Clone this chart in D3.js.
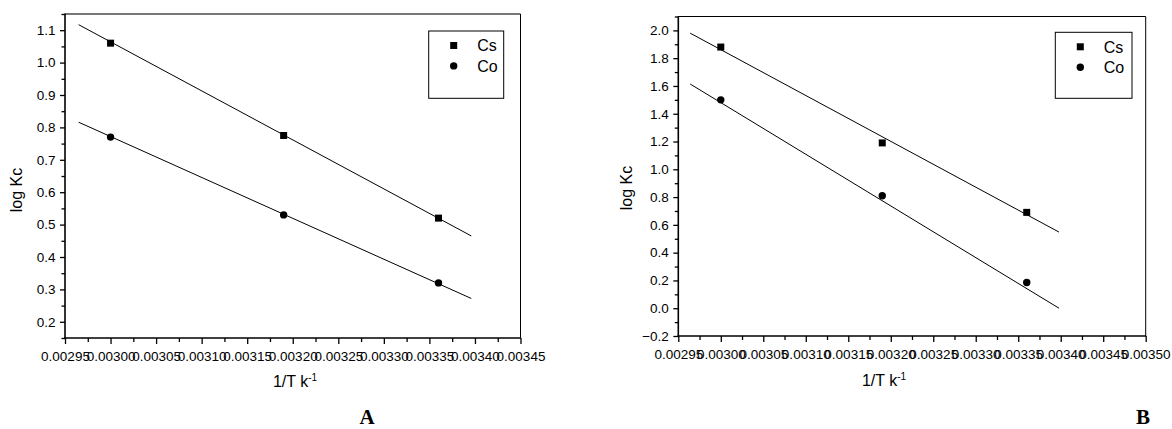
<!DOCTYPE html>
<html>
<head>
<meta charset="utf-8">
<script src="https://cdn.jsdelivr.net/npm/d3@7/dist/d3.min.js"></script>
<style>
  html, body { margin: 0; padding: 0; background: #fff; }
  svg { display: block; }
  text { font-family: "Liberation Sans", Arial, sans-serif; fill: #000; }
  .panel-letter { font-family: "Liberation Serif", "Times New Roman", serif; font-weight: bold; }
</style>
</head>
<body>
<svg id="chart" width="1172" height="429"></svg>
<script>
// Measured points: 1/T versus log Kc for Cs and Co
const seriesNames = ["Cs", "Co"];

const tempA = [0.00300, 0.00319, 0.00336];
const csA = [1.06, 0.775, 0.52];
const coA = [0.77, 0.53, 0.32];

const tempB = [0.00300, 0.00319, 0.00336];
const csB = [1.88, 1.19, 0.69];
const coB = [1.50, 0.81, 0.185];

// Linear fit lines: end points in 1/T and fitted log Kc
const fitTempA = [0.002965, 0.003396];
const fitCsA = [1.117, 0.465];
const fitCoA = [0.816, 0.272];

const fitTempB = [0.002964, 0.003398];
const fitCsB = [1.98, 0.548];
const fitCoB = [1.614, 0.0];

// Axis ticks
const xTicksA = [0.00295, 0.00300, 0.00305, 0.00310, 0.00315, 0.00320, 0.00325, 0.00330, 0.00335, 0.00340, 0.00345];
const yTicksA = [0.2, 0.3, 0.4, 0.5, 0.6, 0.7, 0.8, 0.9, 1.0, 1.1];
const xTicksB = [0.00295, 0.00300, 0.00305, 0.00310, 0.00315, 0.00320, 0.00325, 0.00330, 0.00335, 0.00340, 0.00345, 0.00350];
const yTicksB = [-0.2, 0.0, 0.2, 0.4, 0.6, 0.8, 1.0, 1.2, 1.4, 1.6, 1.8, 2.0];

const panels = [
  {
    letter: "A", box: {left: 65, right: 520.5, top: 14, bottom: 338},
    xDomain: [0.00295, 0.00345], yDomain: [0.15, 1.15],
    xTicks: xTicksA, yTicks: yTicksA, yMinorStep: 0.05,
    temp: tempA, cs: csA, co: coA,
    fitTemp: fitTempA, fitCs: fitCsA, fitCo: fitCoA,
    topStroke: "#777", topWidth: 2,
    legend: {x: 428.7, y: 31, w: 75, h: 67.3},
    xTitle: {x: 295, y: 387}, yTitle: {x: 22, y: 190},
    letterPos: {x: 367, y: 424}
  },
  {
    letter: "B", box: {left: 678.3, right: 1145.7, top: 16.5, bottom: 336},
    xDomain: [0.00295, 0.00350], yDomain: [-0.2, 2.1],
    xTicks: xTicksB, yTicks: yTicksB, yMinorStep: 0.1,
    temp: tempB, cs: csB, co: coB,
    fitTemp: fitTempB, fitCs: fitCsB, fitCo: fitCoB,
    topStroke: "#000", topWidth: 1,
    legend: {x: 1055.3, y: 32.3, w: 76.7, h: 66},
    xTitle: {x: 884, y: 386}, yTitle: {x: 632, y: 188},
    letterPos: {x: 1143, y: 424}
  }
];

const svg = d3.select("#chart");

function minorValues(domain, step, majors) {
  const out = [];
  const n = Math.round((domain[1] - domain[0]) / step);
  for (let i = 0; i <= n; i++) {
    const v = +(domain[0] + i * step).toFixed(8);
    if (v < domain[0] - 1e-9 || v > domain[1] + 1e-9) continue;
    if (majors.some(m => Math.abs(m - v) < step / 10)) continue;
    out.push(v);
  }
  return out;
}

panels.forEach(p => {
  const b = p.box;
  const x = d3.scaleLinear().domain(p.xDomain).range([b.left, b.right]);
  const y = d3.scaleLinear().domain(p.yDomain).range([b.bottom, b.top]);
  const g = svg.append("g");

  // frame: top and right edges
  g.append("line").attr("x1", b.left).attr("x2", b.right).attr("y1", b.top).attr("y2", b.top)
    .attr("stroke", p.topStroke).attr("stroke-width", p.topWidth);
  g.append("line").attr("x1", b.right).attr("x2", b.right).attr("y1", b.top).attr("y2", b.bottom)
    .attr("stroke", "#000").attr("stroke-width", 1);

  // minor ticks
  const xMinor = minorValues(p.xDomain, 0.000025, p.xTicks);
  const yMinor = minorValues(p.yDomain, p.yMinorStep, p.yTicks);
  g.append("g").attr("transform", `translate(0,${b.bottom})`)
    .call(d3.axisBottom(x).tickValues(xMinor).tickSize(4).tickSizeOuter(0).tickFormat(""))
    .call(a => a.select(".domain").remove())
    .selectAll("line").attr("stroke-width", 1.3);
  g.append("g").attr("transform", `translate(${b.left},0)`)
    .call(d3.axisLeft(y).tickValues(yMinor).tickSize(3.5).tickSizeOuter(0).tickFormat(""))
    .call(a => a.select(".domain").remove())
    .selectAll("line").attr("stroke-width", 1.3);

  // major axes
  const xAxis = g.append("g").attr("transform", `translate(0,${b.bottom})`)
    .call(d3.axisBottom(x).tickValues(p.xTicks).tickSize(6).tickSizeOuter(0)
      .tickPadding(7.5).tickFormat(d3.format(".5f")));
  const yAxis = g.append("g").attr("transform", `translate(${b.left},0)`)
    .call(d3.axisLeft(y).tickValues(p.yTicks).tickSize(5).tickSizeOuter(0)
      .tickPadding(4.5).tickFormat(d3.format(".1f")));
  [xAxis, yAxis].forEach(a => {
    a.attr("font-family", null).attr("font-size", null);
    a.select(".domain").attr("stroke-width", 1.6);
    a.selectAll(".tick line").attr("stroke-width", 1.3);
    a.selectAll("text").style("font-size", "13.5px");
  });
  xAxis.select(".domain").attr("d", `M${b.left - 0.8},0H${b.right + 0.5}`);
  yAxis.select(".domain").attr("d", `M0,${b.bottom + 0.8}V${b.top - 0.5}`);

  // fit lines
  const line = d3.line().x(d => x(d[0])).y(d => y(d[1]));
  [p.fitCs, p.fitCo].forEach(vals => {
    g.append("path").datum(p.fitTemp.map((t, i) => [t, vals[i]]))
      .attr("d", line).attr("fill", "none").attr("stroke", "#000").attr("stroke-width", 1);
  });

  // points
  const sq = 7;
  g.selectAll(".cs").data(p.temp.map((t, i) => [t, p.cs[i]])).join("rect")
    .attr("x", d => x(d[0]) - sq / 2).attr("y", d => y(d[1]) - sq / 2)
    .attr("width", sq).attr("height", sq).attr("fill", "#000");
  g.selectAll(".co").data(p.temp.map((t, i) => [t, p.co[i]])).join("circle")
    .attr("cx", d => x(d[0])).attr("cy", d => y(d[1])).attr("r", 3.7).attr("fill", "#000");

  // legend
  const L = p.legend;
  g.append("rect").attr("x", L.x).attr("y", L.y).attr("width", L.w).attr("height", L.h)
    .attr("fill", "#fff").attr("stroke", "#000").attr("stroke-width", 1);
  const lg = g.append("g");
  seriesNames.forEach((name, i) => {
    const cy = L.y + 14.5 + i * 20.4;
    const sx = L.x + 25;
    if (i === 0) {
      lg.append("rect").attr("x", sx - 3.5).attr("y", cy - 3.5).attr("width", 7).attr("height", 7).attr("fill", "#000");
    } else {
      lg.append("circle").attr("cx", sx).attr("cy", cy).attr("r", 3.7).attr("fill", "#000");
    }
    lg.append("text").attr("x", L.x + 48.5).attr("y", cy + 5.7)
      .style("font-size", "16px").text(name);
  });

  // axis titles
  const xt = g.append("text").attr("x", p.xTitle.x).attr("y", p.xTitle.y)
    .attr("text-anchor", "middle").style("font-size", "16px");
  xt.append("tspan").text("1/T k");
  xt.append("tspan").attr("dy", -6).style("font-size", "10px").text("-1");

  g.append("text").attr("transform", `translate(${p.yTitle.x},${p.yTitle.y}) rotate(-90)`)
    .attr("text-anchor", "middle").style("font-size", "16px").text("log Kc");

  // panel letter
  g.append("text").attr("class", "panel-letter")
    .attr("x", p.letterPos.x).attr("y", p.letterPos.y)
    .attr("text-anchor", "middle").style("font-size", "21px").text(p.letter);
});
</script>
</body>
</html>
